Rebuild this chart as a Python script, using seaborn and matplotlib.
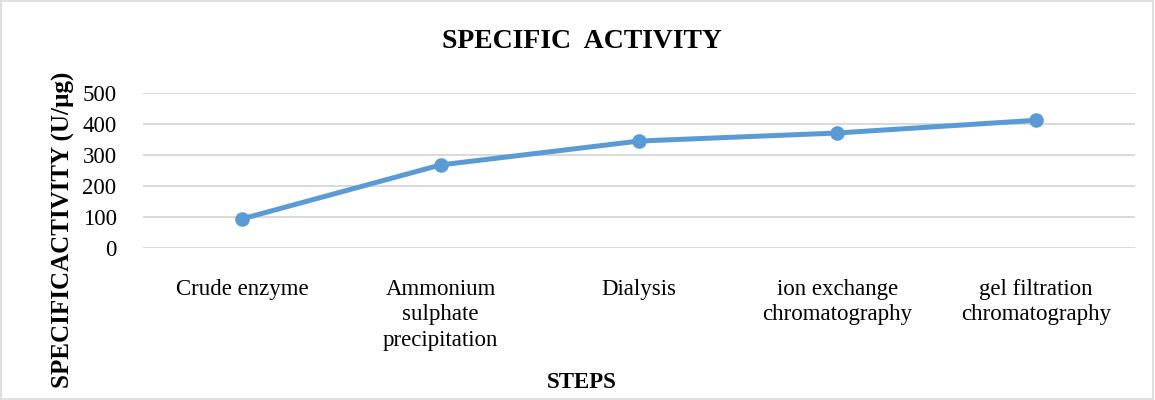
import matplotlib
matplotlib.use("Agg")
import matplotlib.pyplot as plt
import seaborn as sns
import pandas as pd
from matplotlib.patches import Rectangle

steps = [
    "Crude enzyme",
    "Ammonium\nsulphate\nprecipitation",
    "Dialysis",
    "ion exchange\nchromatography",
    "gel filtration\nchromatography",
]
specific_activity = [94, 268, 345, 371, 412]
y_ticks = [0, 100, 200, 300, 400, 500]

df = pd.DataFrame({"step": steps, "activity": specific_activity})

sns.set_theme(style="white")
plt.rcParams["font.family"] = ["Liberation Serif", "DejaVu Serif"]
plt.rcParams["text.color"] = "black"

fig = plt.figure(figsize=(11.55, 4.0), dpi=100)
ax = fig.add_axes([0.1238, 0.38, 0.8589, 0.3875])

sns.lineplot(data=df, x="step", y="activity", sort=False, ax=ax,
             color="#5B9BD5", linewidth=3.6, marker="o", markersize=10.5,
             markeredgewidth=0, markeredgecolor="#5B9BD5")

ax.set_ylim(0, 500)
ax.set_xlim(-0.5, len(steps) - 0.5)
ax.set_yticks(y_ticks)
ax.set_yticklabels([str(v) for v in y_ticks])
ax.yaxis.grid(True, color="#D9D9D9", linewidth=1.4)
ax.set_axisbelow(True)
for s in ax.spines.values():
    s.set_visible(False)
ax.tick_params(axis="both", length=0, labelsize=16.5, colors="black")
ax.tick_params(axis="y", pad=19)
ax.tick_params(axis="x", pad=22)
for lbl in ax.get_xticklabels():
    lbl.set_linespacing(1.3)
ax.set_xlabel("")
ax.set_ylabel("")

fig.text(0.504, 0.895, "SPECIFIC  ACTIVITY", ha="center", va="center",
         fontsize=20, fontweight="bold", color="black")
fig.text(0.504, 0.043, "STEPS", ha="center", va="center",
         fontsize=16.5, fontweight="bold", color="black")
fig.text(0.055, 0.425, "SPECIFICACTIVITY (U/µg)", ha="center", va="center",
         rotation=90, fontsize=18, fontweight="bold", color="black")

fig.patches.append(Rectangle((0.001, 0.002), 0.997, 0.995, transform=fig.transFigure,
                             fill=False, edgecolor="#D9D9D9", linewidth=1.2))

fig.savefig("out.png", dpi=100, facecolor="white")
